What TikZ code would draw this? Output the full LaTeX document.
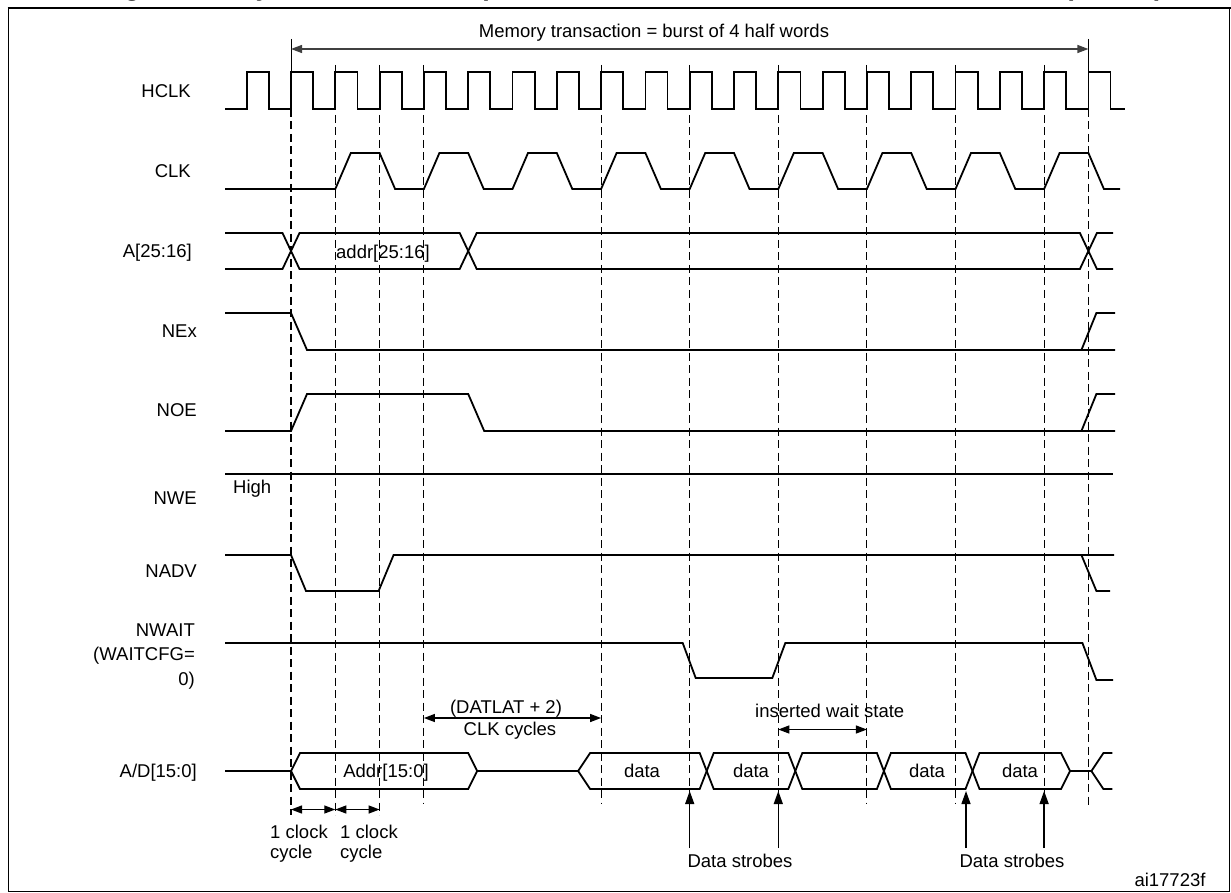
\documentclass[tikz,border=0pt]{standalone}
\usepackage{fontspec}
\setmainfont{Liberation Sans}
\usetikzlibrary{arrows.meta}
\newcommand{\tT}[1]{291+44.3*(#1)}
\begin{document}
\begin{tikzpicture}[x=1pt,y=-1pt,
  every node/.style={inner sep=0pt,font=\fontsize{18.5}{22.5}\selectfont},
  sig/.style={line width=1.8pt},
  gridline/.style={line width=1.1pt,dash pattern=on 8pt off 4.5pt},
  dimarrow/.style={line width=1.3pt,{Triangle[length=11pt,width=8pt]}-{Triangle[length=11pt,width=8pt]}},
  strobe/.style={line width=1.3pt,-{Triangle[length=13pt,width=9pt]}},
  lbl/.style={anchor=base east},
  btxt/.style={anchor=base}
]
\useasboundingbox (0,0) rectangle (1231,893);
% clipped title
\begin{scope}
\clip (0,0) rectangle (1231,893);
\node[anchor=base west,font=\bfseries\fontsize{27}{32}\selectfont] (title) at (100,-4)
  {Figure 53. Synchronous multiplexed read mode waveforms - NOR, PSRAM (CRAM)};
\end{scope}
% frame
\draw[line width=1.6pt] (8.5,8) -- (8.5,891.5) -- (1229.5,891.5) -- (1229.5,8);
\draw[line width=2.8pt] (7.6,8) -- (1231,8);

% dashed time lines
\foreach \k/\a/\b in {0/109/815,1/65/815,2/65/815,3/65/803,7/65/803,9/65/803,11/65/803,13/65/803,15/65/803,17/65/803,18/109/808}
  \draw[gridline] ({\tT{\k}},\a) -- ({\tT{\k}},\b);

% memory transaction arrow
\coordinate (mL) at ({\tT{0}},49);
\coordinate (mR) at ({\tT{18}},49);
\draw[line width=1pt] ({\tT{0}},39) -- ({\tT{0}},72);
\draw[line width=1pt] ({\tT{18}},39) -- ({\tT{18}},72);
\draw[dimarrow,draw=black!75] (mL) -- (mR);
\node[btxt] (mtxt) at (654,37.5) {Memory transaction = burst of 4 half words};

% labels
\node[lbl] (lhclk) at (191,97.5) {HCLK};
\node[lbl] (lclk) at (191,177.5) {CLK};
\node[lbl] (laddr) at (192,257.5) {A[25:16]};
\node[lbl] (lnex) at (197,337.5) {NEx};
\node[lbl] (lnoe) at (197,416.5) {NOE};
\node[lbl] (lnwe) at (197,504.5) {NWE};
\node[lbl] (lnadv) at (197,577.5) {NADV};
\node[lbl] (lnwait) at (195,636) {NWAIT};
\node[lbl] (lwcfg) at (195,660.5) {(WAITCFG=};
\node[lbl] (lzero) at (195,685) {0)};
\node[lbl] (lad) at (197,777.5) {A/D[15:0]};

% HCLK
\draw[sig] (225,109) \foreach \k in {-1,...,18}{ -- ({\tT{\k}},109) -- ({\tT{\k}},72) -- ({\tT{\k}+22.15},72) -- ({\tT{\k}+22.15},109) } -- (1125,109);
% CLK
\draw[sig] (225,189) \foreach \k in {1,3,...,17}{ -- ({\tT{\k}},189) -- ({\tT{\k}+15.5},153) -- ({\tT{\k+1}},153) -- ({\tT{\k+1}+15.5},189) } -- (1120,189);
% A[25:16]
\draw[sig] (225,233) -- ({\tT{0}-8.5},233) -- ({\tT{0}+8.5},269) -- ({\tT{4}-8.5},269) -- ({\tT{4}+8.5},233) -- ({\tT{18}-8.5},233) -- ({\tT{18}+8.5},269) -- (1113,269);
\draw[sig] (225,269) -- ({\tT{0}-8.5},269) -- ({\tT{0}+8.5},233) -- ({\tT{4}-8.5},233) -- ({\tT{4}+8.5},269) -- ({\tT{18}-8.5},269) -- ({\tT{18}+8.5},233) -- (1113,233);
\node[btxt] (taddr) at (383,258.5) {addr[25:16]};
% NEx
\draw[sig] (225,313) -- ({\tT{0}},313) -- ({\tT{0}+16},350) -- (1115,350);
\draw[sig] ({\tT{18}-7},350) -- ({\tT{18}+8},313) -- (1115,313);
% NOE
\draw[sig] (225,431) -- ({\tT{0}},431) -- ({\tT{0}+16},394) -- ({\tT{4}},394) -- ({\tT{4}+16},431) -- (1115,431);
\draw[sig] ({\tT{18}-7},431) -- ({\tT{18}+8},394) -- (1115,394);
% NWE
\draw[sig] (225,474) -- (1113,474);
\node[anchor=base west] (thigh) at (233,493.5) {High};
% NADV
\draw[sig] (225,555) -- ({\tT{0}},555) -- ({\tT{0}+15},591) -- ({\tT{2}-1},591) -- ({\tT{2}+14},555) -- (1114,555);
\draw[sig] ({\tT{18}-7},555) -- ({\tT{18}+8},591) -- (1110,591);
% NWAIT
\draw[sig] (225,643) -- ({\tT{9}-7},643) -- ({\tT{9}+6},678) -- ({\tT{11}-6},678) -- ({\tT{11}+7},643) -- ({\tT{18}-6},643) -- ({\tT{18}+8},680) -- (1113,680);

% DATLAT annotation
\coordinate (dL) at ({\tT{3}},718);
\coordinate (dR) at ({\tT{7}},718);
\draw[dimarrow] (dL) -- (dR);
\node[btxt] (tdat) at (506,713.5) {(DATLAT + 2)};
\node[btxt] (tclkc) at (510,735.5) {CLK cycles};
% wait state annotation
\coordinate (wL) at ({\tT{11}},729.5);
\coordinate (wR) at ({\tT{13}},729.5);
\draw[dimarrow] (wL) -- (wR);
\node[anchor=base west] (twait) at (755,717) {inserted wait state};

% A/D[15:0]
\draw[sig] (225,771) -- ({\tT{0}},771) -- ({\tT{0}+9},753) -- ({\tT{4}},753) -- ({\tT{4}+9},771) -- ({\tT{4}},789) -- ({\tT{0}+9},789) -- ({\tT{0}},771);
\draw[sig] ({\tT{4}+9},771) -- ({\tT{7}-23},771);
\draw[sig] ({\tT{7}-23},771) -- ({\tT{7}-11},753) -- ({\tT{9}+10},753) -- ({\tT{9}+24},789) -- ({\tT{11}+10},789) -- ({\tT{11}+24},753) -- ({\tT{13}+10},753) -- ({\tT{13}+24},789) -- ({\tT{15}+10},789) -- ({\tT{15}+24},753) -- ({\tT{17}+17},753) -- ({\tT{17}+26},771);
\draw[sig] ({\tT{7}-23},771) -- ({\tT{7}-11},789) -- ({\tT{9}+10},789) -- ({\tT{9}+24},753) -- ({\tT{11}+10},753) -- ({\tT{11}+24},789) -- ({\tT{13}+10},789) -- ({\tT{13}+24},753) -- ({\tT{15}+10},753) -- ({\tT{15}+24},789) -- ({\tT{17}+17},789) -- ({\tT{17}+26},771);
\draw[sig] ({\tT{17}+26},771) -- ({\tT{18}+3},771) -- ({\tT{18}+15},753) -- ({\tT{18}+24},753);
\draw[sig] ({\tT{18}+3},771) -- ({\tT{18}+15},789) -- ({\tT{18}+24},789);
\node[btxt] (taddr2) at (386,777.5) {Addr[15:0]};
\node[btxt] (td1) at (642,777.5) {data};
\node[btxt] (td2) at (751,777.5) {data};
\node[btxt] (td3) at (927,777.5) {data};
\node[btxt] (td4) at (1020,777.5) {data};

% 1 clock cycle arrows
\coordinate (c0) at ({\tT{0}},809.5);
\coordinate (c1) at ({\tT{1}},809.5);
\coordinate (c2) at ({\tT{2}},809.5);
\draw[dimarrow] (c0) -- (c1);
\draw[dimarrow] (c1) -- (c2);
\node[anchor=base west] (tc1a) at (270,838) {1 clock};
\node[anchor=base west] (tc1b) at (270,858) {cycle};
\node[anchor=base west] (tc2a) at (340,838) {1 clock};
\node[anchor=base west] (tc2b) at (340,858) {cycle};

% data strobes
\foreach \n/\x in {1/{\tT{9}},2/{\tT{11}},3/{\tT{15}+10.5},4/{\tT{17}}}{
  \coordinate (sb\n) at ({\x},848);
  \coordinate (st\n) at ({\x},791);
  \draw[strobe] (sb\n) -- (st\n);
}
\node[btxt] (tds1) at (740,867) {Data strobes};
\node[btxt] (tds2) at (1012,867) {Data strobes};
\node[btxt] (tai) at (1170,886) {ai17723f};
\end{tikzpicture}
\end{document}
